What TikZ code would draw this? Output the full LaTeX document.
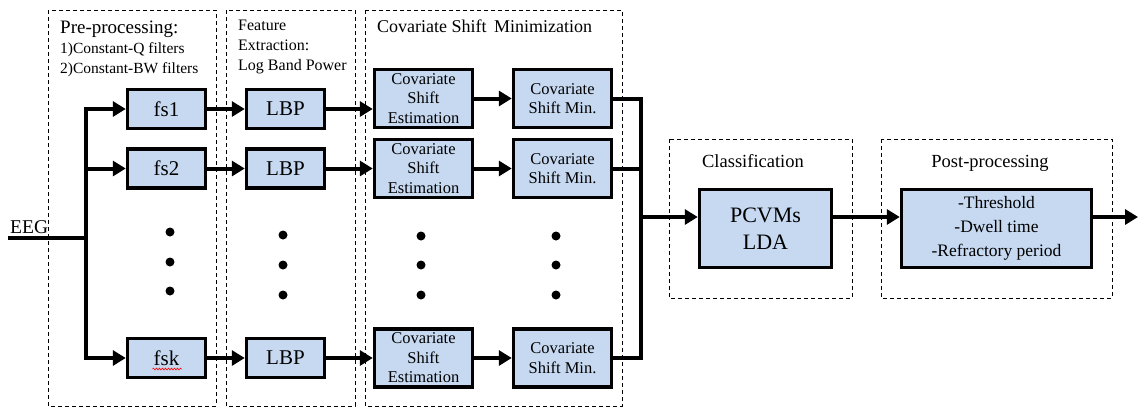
\documentclass[tikz,border=0pt]{standalone}
\usepackage{fontspec}
\setmainfont{Liberation Serif}
\usetikzlibrary{arrows.meta,calc,decorations.pathmorphing}
\definecolor{boxblue}{HTML}{C6D9F1}
\begin{document}
\begin{tikzpicture}[x=1pt,y=-1pt,
 blk/.style={draw, line width=3.5pt, fill=boxblue, inner sep=0pt, align=center},
 fsbox/.style={blk, minimum width=78pt, minimum height=39pt, font=\fontsize{21}{24}\selectfont},
 csbox/.style={blk, minimum width=98pt, minimum height=58pt, font=\fontsize{16.5}{19.5}\selectfont},
 grp/.style={draw, line width=0.8pt, dash pattern=on 4pt off 3pt},
 wire/.style={line width=4pt},
 arr/.style={line width=4pt, -{Triangle[length=13pt,width=15pt]}},
 dotn/.style={circle, fill=black, inner sep=0pt, minimum size=9pt},
 ttl/.style={anchor=base west, inner sep=0pt},
 ttc/.style={anchor=base, inner sep=0pt},
]
\useasboundingbox (0,0) rectangle (1138,408);
% dashed groups
\draw[grp] (48,10) rectangle (216,406);
\draw[grp] (226,10) rectangle (355,406);
\draw[grp] (365,10) rectangle (622,406);
\draw[grp] (669,139) rectangle (852,298);
\draw[grp] (881,139) rectangle (1112,298);
% titles
\node[ttl, font=\fontsize{19}{22}\selectfont] (tpre) at (60,33) {Pre-processing:};
\node[ttl, font=\fontsize{15.5}{18}\selectfont] (tpre1) at (60,53) {1)Constant-Q filters};
\node[ttl, font=\fontsize{15.5}{18}\selectfont] (tpre2) at (60,73) {2)Constant-BW filters};
\node[ttl, font=\fontsize{16}{20}\selectfont] (tfe1) at (238,30) {Feature};
\node[ttl, font=\fontsize{16}{20}\selectfont] (tfe2) at (238,50) {Extraction:};
\node[ttl, font=\fontsize{16}{20}\selectfont] (tfe3) at (238,70) {Log Band Power};
\node[ttl, font=\fontsize{18}{21}\selectfont] (tcs) at (377,32) {Covariate Shift\, Minimization};
\node[ttc, font=\fontsize{18.5}{21}\selectfont] (tcl) at (753,167) {Classification};
\node[ttc, font=\fontsize{18.5}{21}\selectfont] (tpp) at (990,167) {Post-processing};
\node[ttl, font=\fontsize{19.5}{22}\selectfont] (teeg) at (10,233) {EEG};
% blocks
\node[fsbox] (fs1) at (166.5,109) {fs1};
\node[fsbox] (fs2) at (166.5,168.5) {fs2};
\node[fsbox] (fsk) at (166.5,358) {fsk};
\node[fsbox] (lbp1) at (285.5,109) {LBP};
\node[fsbox] (lbp2) at (285.5,168.5) {LBP};
\node[fsbox] (lbpk) at (285.5,358) {LBP};
\node[csbox] (est1) at (423.5,98.5) {Covariate\\Shift\\Estimation};
\node[csbox] (est2) at (423.5,168.5) {Covariate\\Shift\\Estimation};
\node[csbox] (estk) at (423.5,358) {Covariate\\Shift\\Estimation};
\node[csbox] (min1) at (562.5,98.5) {Covariate\\Shift Min.};
\node[csbox] (min2) at (562.5,168.5) {Covariate\\Shift Min.};
\node[csbox] (mink) at (562.5,358) {Covariate\\Shift Min.};
\node[blk, minimum width=132pt, minimum height=78pt, font=\fontsize{22}{27}\selectfont] (pcvm) at (765.5,228.5) {PCVMs\\LDA};
\node[blk, minimum width=190pt, minimum height=78pt, font=\fontsize{17.5}{24}\selectfont] (post) at (996.5,228.5) {-Threshold\\-Dwell time\\-Refractory period};
% spell-check squiggle under fsk
\draw[red, line width=0.6pt, decorate, decoration={snake, amplitude=0.9pt, segment length=3pt}]
  ($(fsk.center)+(-14,11)$) coordinate (sq1) -- ($(fsk.center)+(15,11)$) coordinate (sq2);
% dots
\foreach \n/\x/\y in {p1/170/232, p2/170/262, p3/170/291,
                      l1/283/235, l2/283/265, l3/283/295,
                      e1/421/236, e2/421/265, e3/421/295,
                      m1/556/236, m2/556/265, m3/556/295}
  \node[dotn] (dot\n) at (\x,\y) {};
% connectors
\coordinate (eegin) at (8,238);
\coordinate (split) at (86,238);
\draw[wire] (eegin) -- (split);
\draw[arr] (split) |- (fs1.west);
\draw[arr] (split) |- (fs2.west);
\draw[arr] (split) |- (fsk.west);
\foreach \r in {1,2,k}{
  \draw[arr] (fs\r.east) -- (lbp\r.west);
  \draw[arr] (lbp\r.east) -- (lbp\r.east -| est\r.west);
  \draw[arr] (est\r.east) -- (min\r.west);
}
\coordinate (bus) at (641,217);
\draw[wire] (min1.east) -| (bus);
\draw[wire] (mink.east) -| (bus);
\draw[wire] (min2.east) -- (min2.east -| bus);
\draw[arr] (bus) -- (bus -| pcvm.west);
\draw[arr] (pcvm.east |- bus) -- (bus -| post.west);
\coordinate (outend) at (1138,217);
\draw[arr] (post.east |- bus) -- (outend);
\end{tikzpicture}
\end{document}
